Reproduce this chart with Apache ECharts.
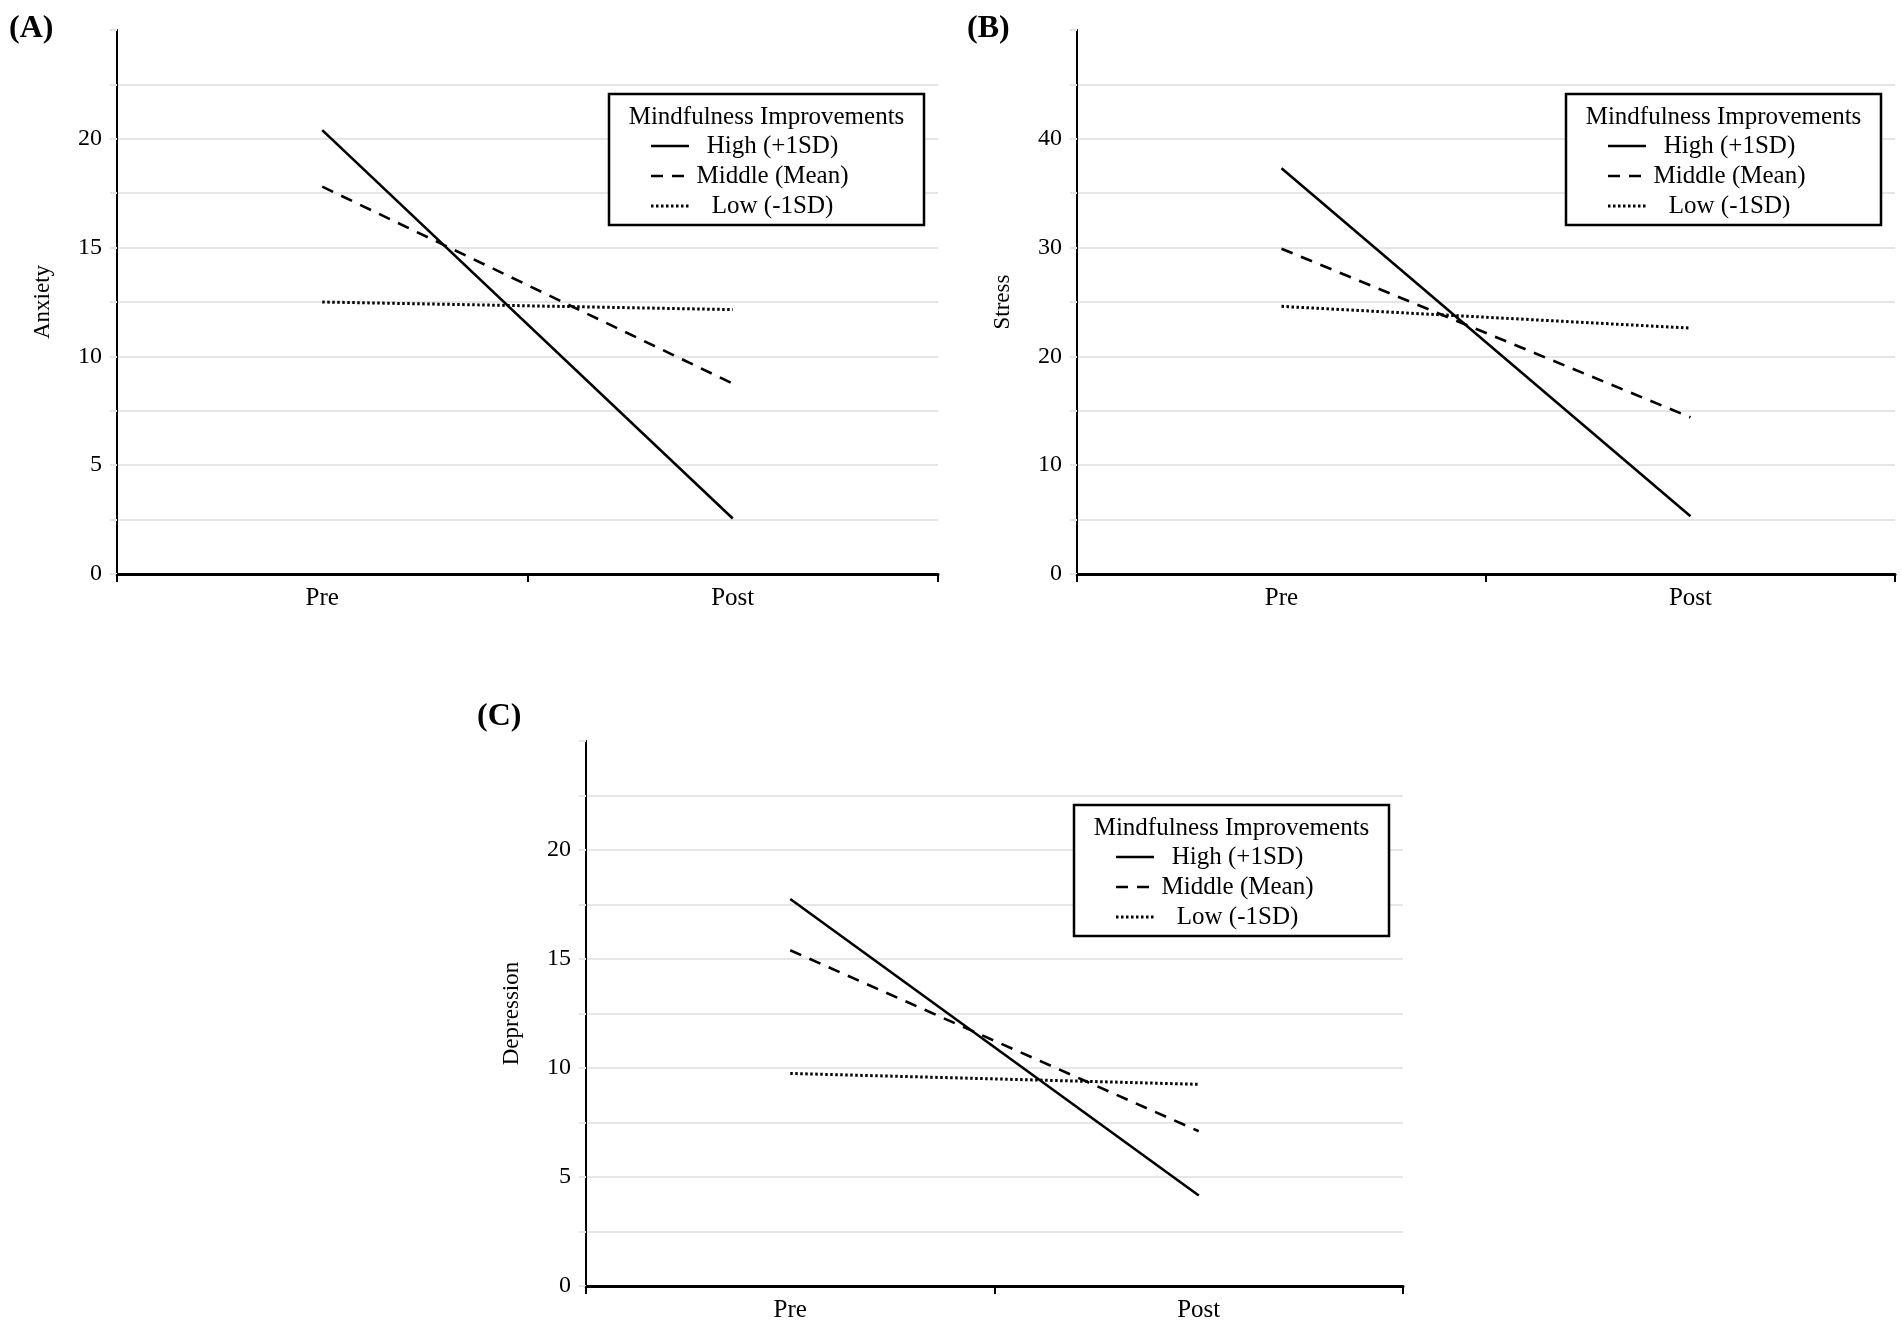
<!DOCTYPE html>
<html>
<head>
<meta charset="utf-8">
<script src="https://cdn.jsdelivr.net/npm/echarts@6/dist/echarts.min.js"></script>
<style>
  html, body { margin: 0; padding: 0; background: #fff; }
  #chart { width: 1902px; height: 1325px; }
</style>
</head>
<body>
<div id="chart"></div>
<script>
// data
const categories = ['Pre', 'Post'];
const seriesNames = ['High (+1SD)', 'Middle (Mean)', 'Low (-1SD)'];
const legendTitle = 'Mindfulness Improvements';

const anxietyHigh = [20.4, 2.55];
const anxietyMiddle = [17.8, 8.75];
const anxietyLow = [12.5, 12.15];

const stressHigh = [37.3, 5.3];
const stressMiddle = [29.9, 14.4];
const stressLow = [24.6, 22.6];

const depressionHigh = [17.75, 4.15];
const depressionMiddle = [15.4, 7.1];
const depressionLow = [9.75, 9.25];

const yNames = ['Anxiety', 'Stress', 'Depression'];
const yMax = [25, 50, 25];
const yStep = [2.5, 5, 2.5];
const yLabelStep = [5, 10, 5];
const panelLetters = ['(A)', '(B)', '(C)'];

const values = [
  [anxietyHigh, anxietyMiddle, anxietyLow],
  [stressHigh, stressMiddle, stressLow],
  [depressionHigh, depressionMiddle, depressionLow]
];

const FONT = '"Liberation Serif", "Times New Roman", serif';

// layout of the three panels (pixels)
const panels = [
  { left: 117, top: 30, width: 821, height: 544, letterX: 9, letterY: 30 },
  { left: 1077, top: 30, width: 818, height: 544, letterX: 967, letterY: 30 },
  { left: 586, top: 741, width: 817, height: 545, letterX: 477, letterY: 718 }
];

const lineDashes = [null, [12, 9], [2.5, 2.5]];
const lineWidths = [2.6, 2.6, 3];

const grids = [], xAxes = [], yAxes = [], series = [], graphics = [];

panels.forEach((p, i) => {
  grids.push({ left: p.left, top: p.top, width: p.width, height: p.height });

  xAxes.push({
    type: 'category',
    gridIndex: i,
    data: categories,
    boundaryGap: true,
    axisLine: { lineStyle: { color: '#000', width: 3 } },
    axisTick: { show: true, length: 8, lineStyle: { color: '#000', width: 2 } },
    axisLabel: { color: '#000', fontFamily: FONT, fontSize: 25, margin: 12 },
    splitLine: { show: false }
  });

  yAxes.push({
    type: 'value',
    gridIndex: i,
    min: 0,
    max: yMax[i],
    interval: yStep[i],
    name: yNames[i],
    nameLocation: 'middle',
    nameGap: 63,
    nameTextStyle: { color: '#000', fontFamily: FONT, fontSize: 23 },
    axisLine: { show: true, lineStyle: { color: '#000', width: 2 } },
    axisTick: { show: true, length: 7, lineStyle: { color: '#e6e6e6', width: 2 } },
    axisLabel: {
      color: '#000', fontFamily: FONT, fontSize: 24, margin: 15,
      formatter: v => (v < yMax[i] && Math.abs(v % yLabelStep[i]) < 1e-9 ? String(v) : '')
    },
    splitLine: { show: true, showMaxLine: false, lineStyle: { color: '#e6e6e6', width: 2 } }
  });

  values[i].forEach((vals, k) => {
    series.push({
      type: 'line',
      name: seriesNames[k],
      xAxisIndex: i,
      yAxisIndex: i,
      data: vals,
      symbol: 'none',
      silent: true,
      lineStyle: {
        color: '#000',
        width: lineWidths[k],
        type: lineDashes[k] || 'solid'
      }
    });
  });

  // panel letter
  graphics.push({
    type: 'text',
    left: p.letterX,
    top: p.letterY - 17,
    z: 100,
    style: { text: panelLetters[i], font: 'bold 32px ' + FONT, fill: '#000' }
  });

  // legend box
  const boxW = 315, boxH = 131;
  const bx = p.left + p.width - 14 - boxW;
  const by = p.top + 64;
  const cx = bx + boxW / 2;
  graphics.push({
    type: 'rect',
    z: 100,
    shape: { x: bx, y: by, width: boxW, height: boxH },
    style: { fill: '#fff', stroke: '#000', lineWidth: 2.5 }
  });
  graphics.push({
    type: 'text',
    z: 101,
    style: {
      text: legendTitle, x: cx, y: by + 23,
      align: 'center', verticalAlign: 'middle',
      font: '25px ' + FONT, fill: '#000'
    }
  });
  seriesNames.forEach((name, k) => {
    const ry = by + 52 + k * 30;
    graphics.push({
      type: 'line',
      z: 101,
      shape: { x1: bx + 42, y1: ry, x2: bx + 80, y2: ry },
      style: { stroke: '#000', lineWidth: lineWidths[k], lineDash: lineDashes[k] }
    });
    graphics.push({
      type: 'text',
      z: 101,
      style: {
        text: name, x: cx + 6, y: ry,
        align: 'center', verticalAlign: 'middle',
        font: '25px ' + FONT, fill: '#000'
      }
    });
  });
});

const chart = echarts.init(document.getElementById('chart'));
chart.setOption({
  animation: false,
  backgroundColor: '#fff',
  grid: grids,
  xAxis: xAxes,
  yAxis: yAxes,
  series: series,
  graphic: graphics
});
</script>
</body>
</html>
